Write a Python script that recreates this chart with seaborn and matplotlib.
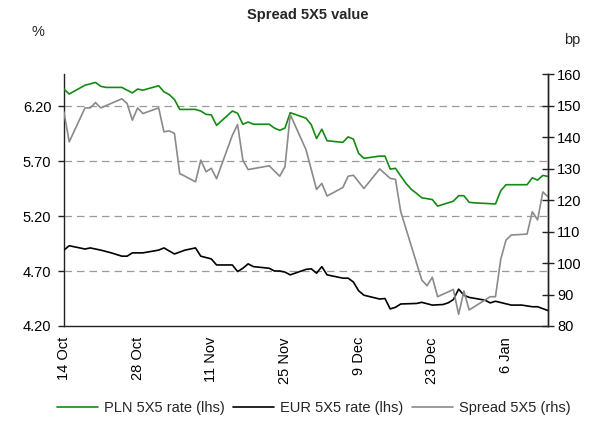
import pandas as pd
import seaborn as sns
import matplotlib.pyplot as plt
import matplotlib.dates as mdates
from matplotlib.ticker import FormatStrFormatter

start = pd.Timestamp("2013-10-14")

# day offsets from 14 Oct 2013 and values
pln_days = [0, 1, 4, 6, 7, 8, 11, 13, 14, 15, 18, 19, 20, 21, 22, 25, 26, 27, 28, 29,
            32, 33, 34, 35, 36, 39, 40, 41, 42, 43, 46, 47, 48, 49, 50, 53, 54, 55, 56, 57,
            60, 61, 62, 63, 64, 65, 66, 67, 68, 70, 71, 74, 75, 76, 77, 78, 82, 83, 84, 88,
            89, 90, 91, 92]
pln_rate = [6.355, 6.31, 6.39, 6.415, 6.38, 6.37, 6.37, 6.32, 6.355, 6.345, 6.385, 6.33, 6.305, 6.26, 6.17, 6.17, 6.155, 6.125, 6.12, 6.025,
            6.155, 6.135, 6.035, 6.055, 6.035, 6.035, 6.00, 5.98, 6.00, 6.14, 6.09, 6.03, 5.905, 5.99, 5.885, 5.87, 5.92, 5.90, 5.77, 5.725,
            5.745, 5.745, 5.627, 5.634, 5.564, 5.497, 5.443, 5.406, 5.366, 5.35, 5.29, 5.335, 5.385, 5.385, 5.325, 5.32, 5.31, 5.43, 5.485, 5.485,
            5.548, 5.527, 5.57, 5.56]

eur_days = [0, 1, 2, 4, 5, 7, 9, 11, 12, 13, 15, 18, 19, 21, 23, 25, 26, 28, 29, 32,
            33, 34, 35, 36, 39, 40, 41, 42, 43, 46, 47, 48, 49, 50, 53, 54, 55, 56, 57, 60,
            61, 62, 63, 64, 67, 68, 70, 72, 73, 74, 75, 76, 77, 80, 81, 82, 85, 87, 89, 90,
            92]
eur_rate = [4.89, 4.93, 4.92, 4.90, 4.91, 4.89, 4.865, 4.835, 4.835, 4.865, 4.865, 4.89, 4.91, 4.855, 4.89, 4.91, 4.835, 4.81, 4.755, 4.755,
            4.695, 4.725, 4.765, 4.74, 4.725, 4.70, 4.70, 4.69, 4.665, 4.715, 4.72, 4.68, 4.74, 4.665, 4.635, 4.635, 4.60, 4.52, 4.48, 4.445,
            4.45, 4.355, 4.37, 4.40, 4.405, 4.415, 4.39, 4.395, 4.41, 4.44, 4.535, 4.48, 4.46, 4.435, 4.41, 4.425, 4.39, 4.39, 4.375, 4.375,
            4.34]

spread_days = [0, 1, 4, 5, 6, 7, 11, 12, 13, 14, 15, 18, 19, 20, 21, 22, 23, 25, 26, 27,
               28, 29, 32, 33, 34, 35, 39, 41, 42, 43, 46, 48, 49, 50, 53, 54, 55, 57, 60, 62,
               63, 64, 68, 69, 70, 71, 74, 75, 76, 77, 81, 82, 83, 84, 85, 88, 89, 90, 91, 92]
spread_bp = [148.0, 138.5, 149.3, 149.3, 151.0, 149.3, 152.2, 150.7, 145.4, 149.3, 147.5, 149.3, 141.7, 142.0, 141.2, 128.4, 127.6, 125.8, 132.7, 129.0,
             130.1, 126.8, 140.6, 144.0, 132.7, 129.7, 130.9, 127.6, 130.6, 147.2, 136.0, 123.4, 125.3, 121.3, 124.0, 127.6, 127.9, 123.7, 129.9, 126.9,
             126.6, 116.3, 94.6, 92.8, 95.5, 89.3, 91.6, 83.7, 91.1, 85.1, 89.3, 89.3, 101.2, 107.3, 108.9, 109.2, 116.3, 113.7, 122.6, 121.0]

left_ticks = [4.20, 4.70, 5.20, 5.70, 6.20]
right_ticks = [80, 90, 100, 110, 120, 130, 140, 150, 160]

df_pln = pd.DataFrame({"date": start + pd.to_timedelta(pln_days, unit="D"), "rate": pln_rate})
df_eur = pd.DataFrame({"date": start + pd.to_timedelta(eur_days, unit="D"), "rate": eur_rate})
df_spr = pd.DataFrame({"date": start + pd.to_timedelta(spread_days, unit="D"), "bp": spread_bp})

sns.set_style("white")
plt.rcParams["font.family"] = ["Liberation Sans", "DejaVu Sans"]
plt.rcParams["font.size"] = 10.5

fig = plt.figure(figsize=(6.09, 4.21), dpi=100)
ax = fig.add_axes([0.105, 0.2257, 0.795, 0.598])
ax2 = ax.twinx()

# dashed grid on the left scale
for t in left_ticks[1:]:
    ax.axhline(t, color="#9a9a9a", lw=0.9, ls=(0, (6, 4)), zorder=0)

sns.lineplot(data=df_pln, x="date", y="rate", ax=ax, color="#138a13", lw=1.2, label="PLN 5X5 rate (lhs)", zorder=3)
sns.lineplot(data=df_eur, x="date", y="rate", ax=ax, color="black", lw=1.2, label="EUR 5X5 rate (lhs)", zorder=3)
sns.lineplot(data=df_spr, x="date", y="bp", ax=ax2, color="#8a8a8a", lw=1.2, label="Spread 5X5 (rhs)")

ax.set_xlim(start, start + pd.Timedelta(days=92))
ax.set_ylim(4.20, 6.49)
ax2.set_ylim(80, 160)
ax.set_yticks(left_ticks)
ax.yaxis.set_major_formatter(FormatStrFormatter("%.2f"))
ax2.set_yticks(right_ticks)

ax.set_xticks(pd.date_range(start, periods=7, freq="14D"))
ax.xaxis.set_major_formatter(mdates.DateFormatter("%-d %b"))
plt.setp(ax.get_xticklabels(), rotation=90)

ax.set_xlabel("")
ax.set_ylabel("")
ax2.set_ylabel("")

for a in (ax, ax2):
    a.spines["top"].set_visible(False)
    for s in ("left", "right", "bottom"):
        a.spines[s].set_color("#222222")
        a.spines[s].set_linewidth(1.0)
ax2.spines["left"].set_visible(False)
ax2.spines["bottom"].set_visible(False)

ax.tick_params(axis="y", direction="out", length=4, width=1, colors="#222222", labelcolor="black", pad=5)
ax.tick_params(axis="x", direction="out", length=5, width=1, colors="#444444", labelcolor="black", pad=3)
ax2.tick_params(axis="y", direction="inout", length=9, width=1, colors="#222222", labelcolor="black", pad=2)

# legend below the plot
h1, l1 = ax.get_legend_handles_labels()
h2, l2 = ax2.get_legend_handles_labels()
ax.get_legend().remove()
ax2.get_legend().remove()
fig.legend(h1 + h2, l1 + l2, loc="center", bbox_to_anchor=(0.515, 0.03), ncol=3, frameon=False,
           handlelength=2.8, handletextpad=0.4, columnspacing=0.6, fontsize=10.5)

fig.text(0.505, 0.965, "Spread 5X5 value", ha="center", va="center", fontsize=10.5, fontweight="bold")
fig.text(0.062, 0.925, "%", ha="center", va="center", fontsize=10.5)
fig.text(0.94, 0.905, "bp", ha="center", va="center", fontsize=10.5)

fig.savefig("out.png", dpi=100)
